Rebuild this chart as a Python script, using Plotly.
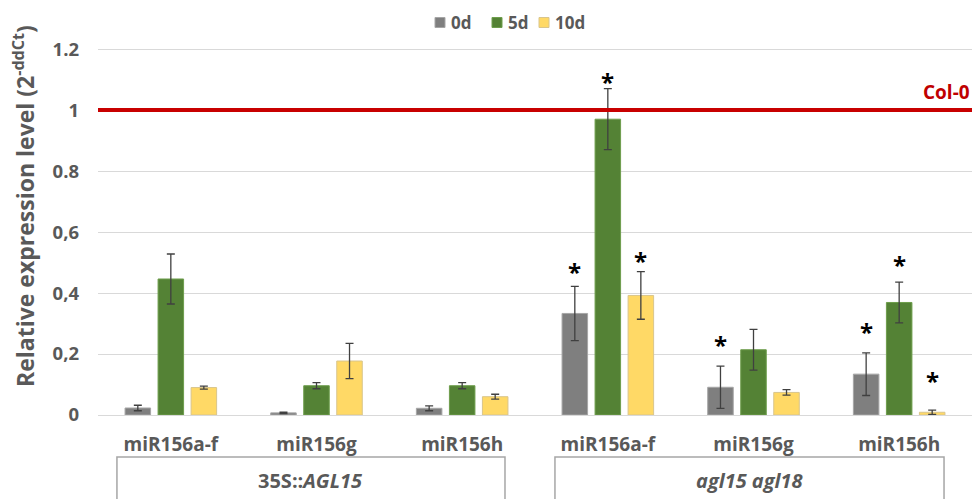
import plotly.graph_objects as go

# miRNA targets, two genotypes with three loci each
targets = ["miR156a-f", "miR156g", "miR156h", "miR156a-f", "miR156g", "miR156h"]
genotypes = ["35S::<i>AGL15</i>", "<i>agl15 agl18</i>"]
series_names = ["0d", "5d", "10d"]

# relative expression (2^-ddCt) and standard errors
expr_0d = [0.023, 0.007, 0.022, 0.333, 0.091, 0.134]
err_0d = [0.009, 0.002, 0.008, 0.089, 0.069, 0.070]
expr_5d = [0.446, 0.096, 0.096, 0.970, 0.214, 0.369]
err_5d = [0.082, 0.010, 0.010, 0.100, 0.067, 0.067]
expr_10d = [0.090, 0.177, 0.060, 0.392, 0.074, 0.009]
err_10d = [0.005, 0.058, 0.008, 0.078, 0.009, 0.007]

# significance vs Col-0
sig_0d = [False, False, False, True, True, True]
sig_5d = [False, False, False, True, False, True]
sig_10d = [False, False, False, True, False, True]

col0_level = 1.0
y_ticks = [0, 0.2, 0.4, 0.6, 0.8, 1.0, 1.2]
y_ticktext = ["0", "0,2", "0,4", "0,6", "0.8", "1", "1.2"]

FONT = "Open Sans"
TEXT_GREY = "#595959"

# plot-area geometry in pixels (used to place paper-referenced items)
L, R, T, B, W, H = 98, 3, 46, 84, 975, 499
PW, PH = W - L - R, H - T - B


def px_x(px):
    return (px - L) / PW


def px_y(py):
    return (H - B - py) / PH


positions = list(range(len(targets)))
fills = ["#7F7F7F", "#548235", "#FFD966"]
edges = ["#A6A6A6", "#6E9E4C", "#D9C58C"]
all_vals = [expr_0d, expr_5d, expr_10d]
all_errs = [err_0d, err_5d, err_10d]
all_sig = [sig_0d, sig_5d, sig_10d]

fig = go.Figure()
for name, vals, errs, fill, edge in zip(series_names, all_vals, all_errs, fills, edges):
    fig.add_trace(go.Bar(
        x=positions, y=vals, name=name, showlegend=False,
        marker=dict(color=fill, line=dict(color=edge, width=1)),
        error_y=dict(type="data", array=errs, visible=True,
                     color="#404040", thickness=1.3, width=4),
    ))

# legend drawn as swatches + labels across the top
legend_left = [435, 492, 539]
for name, fill, edge, x0 in zip(series_names, fills, edges, legend_left):
    fig.add_shape(type="rect", xref="paper", yref="paper",
                  x0=px_x(x0), x1=px_x(x0 + 10), y0=px_y(27.5), y1=px_y(17.5),
                  fillcolor=fill, line=dict(color=edge, width=1))
    fig.add_annotation(x=px_x(x0 + 14), xref="paper", y=px_y(22), yref="paper",
                       text="<b>" + name + "</b>", showarrow=False,
                       xanchor="left", yanchor="middle",
                       font=dict(family=FONT, size=17, color=TEXT_GREY))

# Col-0 reference level
fig.add_hline(y=col0_level, line=dict(color="#C80000", width=4), layer="above")
fig.add_annotation(x=1, xref="paper", y=col0_level, yref="y", text="<b>Col-0</b>",
                   showarrow=False, xanchor="right", yanchor="bottom", yshift=3,
                   font=dict(family=FONT, size=19, color="#C00000"))

# significance asterisks above the error bars
slot = (1 - 0.32) / 3
shifts = {(3, 0): 20, (3, 1): 12, (3, 2): 16, (4, 0): 27, (5, 0): 26, (5, 1): 23, (5, 2): 35}
for i in positions:
    for k, (vals, errs, sig) in enumerate(zip(all_vals, all_errs, all_sig)):
        if sig[i]:
            fig.add_annotation(x=i + (k - 1) * slot, y=vals[i] + errs[i], text="<b>*</b>",
                               showarrow=False, xanchor="center", yanchor="middle",
                               yshift=shifts[(i, k)] - 5,
                               font=dict(family=FONT, size=24, color="#000000"))

# genotype boxes below the axis
for (x0, x1), label in zip([(-0.37, 2.294), (2.637, 5.308)], genotypes):
    fig.add_shape(type="rect", xref="x", yref="paper", x0=x0, x1=x1,
                  y0=px_y(457), y1=px_y(540),
                  line=dict(color="#A6A6A6", width=1.5), fillcolor="rgba(0,0,0,0)")
    fig.add_annotation(x=(x0 + x1) / 2, xref="x", y=px_y(480), yref="paper",
                       text="<b>" + label + "</b>", showarrow=False,
                       xanchor="center", yanchor="middle",
                       font=dict(family=FONT, size=20, color=TEXT_GREY))

# y axis title
fig.add_annotation(x=px_x(24), xref="paper", y=px_y(206), yref="paper",
                   text="<b>Relative expression level (2<sup>-ddCt</sup>)</b>",
                   textangle=-90, showarrow=False, xanchor="center", yanchor="middle",
                   font=dict(family=FONT, size=23, color=TEXT_GREY))

fig.update_layout(
    width=W, height=H,
    margin=dict(l=L, r=R, t=T, b=B),
    paper_bgcolor="white", plot_bgcolor="white",
    barmode="group", bargap=0.32, bargroupgap=0.227,
    font=dict(family=FONT, color=TEXT_GREY),
    showlegend=False,
    xaxis=dict(range=[-0.5, 5.5], tickvals=positions, ticktext=targets,
               showgrid=False, showline=True, linecolor="#D9D9D9", linewidth=1,
               ticks="", ticklabelstandoff=12,
               tickfont=dict(family=FONT, size=19, color=TEXT_GREY, weight="bold")),
    yaxis=dict(range=[0, 1.21], tickvals=y_ticks, ticktext=y_ticktext,
               showgrid=True, gridcolor="#D9D9D9", gridwidth=1, zeroline=False,
               ticks="", ticklabelstandoff=18,
               tickfont=dict(family=FONT, size=18.5, color=TEXT_GREY, weight="bold")),
)

fig.write_html("out.html")
